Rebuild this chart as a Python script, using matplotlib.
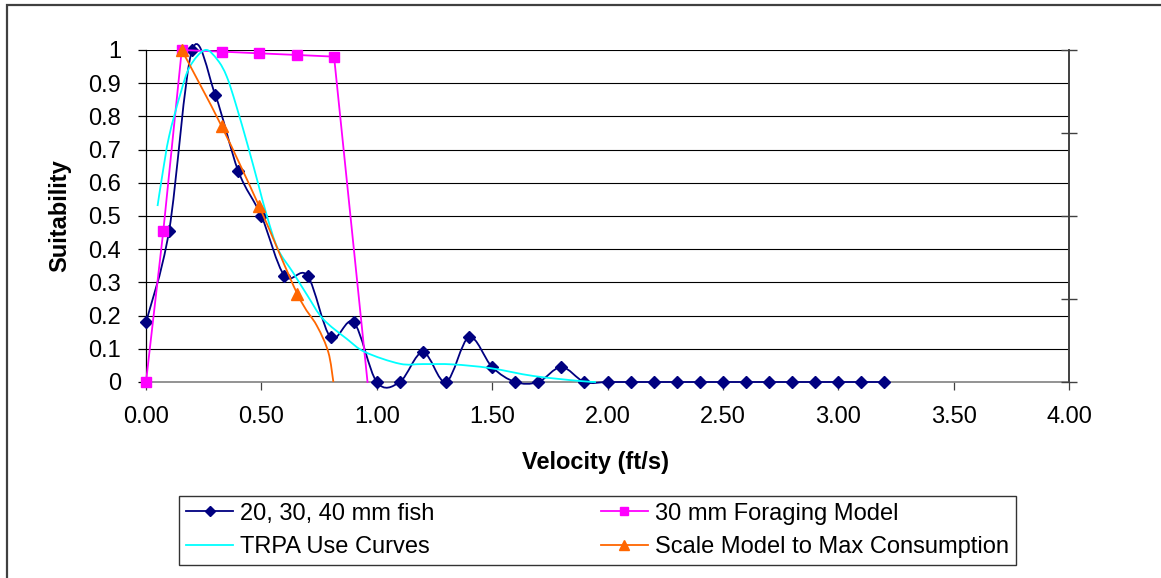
import matplotlib
matplotlib.use("Agg")
import matplotlib.pyplot as plt
from matplotlib.path import Path
from matplotlib.patches import PathPatch, Rectangle
from matplotlib.lines import Line2D

plt.rcParams['font.family'] = ['Liberation Sans', 'DejaVu Sans']

# 20, 30, 40 mm fish (smoothed, diamonds)
fish_x = [0.0, 0.1, 0.2, 0.3, 0.4, 0.5, 0.6, 0.7, 0.8, 0.9, 1.0, 1.1, 1.2, 1.3, 1.4, 1.5, 1.6,
          1.7, 1.8, 1.9, 2.0, 2.1, 2.2, 2.3, 2.4, 2.5, 2.6, 2.7, 2.8, 2.9, 3.0, 3.1, 3.2]
fish_y = [0.18, 0.455, 1.0, 0.865, 0.635, 0.5, 0.32, 0.32, 0.135, 0.18, 0.0, 0.0, 0.09, 0.0, 0.135,
          0.045, 0.0, 0.0, 0.045, 0.0, 0.0, 0.0, 0.0, 0.0, 0.0, 0.0, 0.0, 0.0, 0.0, 0.0, 0.0, 0.0, 0.0]

# 30 mm Foraging Model (straight, squares; last point has no marker)
forage_x = [0.0, 0.075, 0.155, 0.33, 0.49, 0.655, 0.815, 0.96]
forage_y = [0.0, 0.455, 1.0, 0.995, 0.99, 0.985, 0.98, 0.0]

# TRPA Use Curves (smoothed, no markers)
trpa_x = [0.05, 0.07, 0.10, 0.15, 0.19, 0.256, 0.31, 0.35, 0.39, 0.442, 0.485, 0.524, 0.572,
          0.637, 0.70, 0.767, 0.87, 0.95, 1.10, 1.20, 1.33, 1.49, 1.68, 1.88, 1.95]
trpa_y = [0.53, 0.62, 0.74, 0.87, 0.95, 1.0, 0.97, 0.92, 0.835, 0.71, 0.60, 0.50, 0.40,
          0.33, 0.26, 0.19, 0.13, 0.09, 0.055, 0.054, 0.053, 0.042, 0.018, 0.003, 0.0]

# Scale Model to Max Consumption (smoothed, triangles on first four points)
scale_x = [0.155, 0.328, 0.49, 0.656, 0.74, 0.79, 0.812]
scale_y = [1.0, 0.77, 0.53, 0.265, 0.17, 0.09, 0.0]

x_ticks = [0.0, 0.5, 1.0, 1.5, 2.0, 2.5, 3.0, 3.5, 4.0]
y_ticks = [0.0, 0.1, 0.2, 0.3, 0.4, 0.5, 0.6, 0.7, 0.8, 0.9, 1.0]
y_labels = ['0', '0.1', '0.2', '0.3', '0.4', '0.5', '0.6', '0.7', '0.8', '0.9', '1']

NAVY = '#000080'
MAGENTA = '#FF00FF'
CYAN = '#00FFFF'
ORANGE = '#FF6600'
FS = 17


def smooth_path(xs, ys):
    # Excel-style smoothed line: cubic Bezier through each point
    pts = list(zip(xs, ys))
    n = len(pts)
    verts = [pts[0]]
    codes = [Path.MOVETO]
    for i in range(n - 1):
        p0 = pts[i - 1] if i > 0 else pts[i]
        p1 = pts[i]
        p2 = pts[i + 1]
        p3 = pts[i + 2] if i + 2 < n else pts[i + 1]
        c1 = (p1[0] + (p2[0] - p0[0]) / 6, p1[1] + (p2[1] - p0[1]) / 6)
        c2 = (p2[0] - (p3[0] - p1[0]) / 6, p2[1] - (p3[1] - p1[1]) / 6)
        verts += [c1, c2, p2]
        codes += [Path.CURVE4] * 3
    return Path(verts, codes)


fig = plt.figure(figsize=(11.61, 5.78), dpi=100)
ax = fig.add_axes([146 / 1161, 1 - 382 / 578, 923 / 1161, 332 / 578])

# fish
ax.add_patch(PathPatch(smooth_path(fish_x, fish_y), fill=False, edgecolor=NAVY, lw=1.3,
                       clip_on=False, zorder=3))
ax.plot(fish_x, fish_y, ls='none', marker='D', ms=6.5, color=NAVY, clip_on=False, zorder=4)

# foraging model
ax.plot(forage_x, forage_y, color=MAGENTA, lw=1.3, marker='s', ms=7.5,
        markevery=list(range(len(forage_x) - 1)), clip_on=False, zorder=5)

# TRPA
ax.add_patch(PathPatch(smooth_path(trpa_x, trpa_y), fill=False, edgecolor=CYAN, lw=1.3,
                       clip_on=False, zorder=6))

# scale model
ax.add_patch(PathPatch(smooth_path(scale_x, scale_y), fill=False, edgecolor=ORANGE, lw=1.3,
                       clip_on=False, zorder=7))
ax.plot(scale_x[:4], scale_y[:4], ls='none', marker='^', ms=8.5, color=ORANGE,
        clip_on=False, zorder=8)

ax.set_xlim(0, 4)
ax.set_ylim(0, 1)
ax.set_xticks(x_ticks)
ax.set_xticklabels(['%.2f' % v for v in x_ticks])
ax.set_yticks(y_ticks)
ax.set_yticklabels(y_labels)
ax.tick_params(axis='both', labelsize=FS, direction='out', length=6, width=0.9, color='black')
ax.tick_params(axis='y', pad=12)
ax.tick_params(axis='x', pad=11, color='#404040')
for y in y_ticks[1:]:
    ax.axhline(y, color='black', lw=0.8, zorder=1)

for side in ['top']:
    ax.spines[side].set_visible(False)
ax.spines['left'].set_color('black')
ax.spines['left'].set_linewidth(0.9)
ax.spines['bottom'].set_color('#808080')
ax.spines['bottom'].set_linewidth(1.2)
ax.spines['right'].set_color('#404040')
ax.spines['right'].set_linewidth(1.2)

# secondary axis on the right: ticks only
ax2 = ax.twinx()
ax2.set_ylim(0, 1)
ax2.set_yticks([0, 0.25, 0.5, 0.75, 1.0])
ax2.tick_params(axis='y', direction='inout', length=12, width=1, color='#404040',
                labelright=False)
for side in ['top', 'left', 'bottom']:
    ax2.spines[side].set_visible(False)
ax2.spines['right'].set_color('#404040')
ax2.spines['right'].set_linewidth(1.2)

fig.text(60 / 1161, 1 - 216 / 578, 'Suitability', rotation=90, ha='center', va='center',
         fontsize=FS, fontweight='bold')
fig.text(596 / 1161, 1 - 463 / 578, 'Velocity (ft/s)', ha='center', va='center',
         fontsize=FS, fontweight='bold')

handles = [
    Line2D([], [], color=NAVY, lw=1.3, marker='D', ms=5),
    Line2D([], [], color=CYAN, lw=1.3),
    Line2D([], [], color=MAGENTA, lw=1.3, marker='s', ms=6),
    Line2D([], [], color=ORANGE, lw=1.3, marker='^', ms=7),
]
labels = ['20, 30, 40 mm fish', 'TRPA Use Curves', '30 mm Foraging Model',
          'Scale Model to Max Consumption']
leg = fig.legend(handles, labels, ncol=2, mode='expand', loc='center',
                 bbox_to_anchor=(179 / 1161, 1 - 568 / 578, 837 / 1161, 75 / 578),
                 fontsize=FS, frameon=True, fancybox=False, handlelength=2.0,
                 handletextpad=0.3, labelspacing=0.5, borderpad=0.3, borderaxespad=0)
leg.get_frame().set_edgecolor('black')
leg.get_frame().set_linewidth(1.0)

# chart area border (cut off at right and bottom)
fig.patches.append(Rectangle((7 / 1161, -0.2), 1.2, 1.2 - 5 / 578, transform=fig.transFigure,
                             fill=False, edgecolor='#404040', lw=1.6))

fig.savefig('out.png', dpi=100)
